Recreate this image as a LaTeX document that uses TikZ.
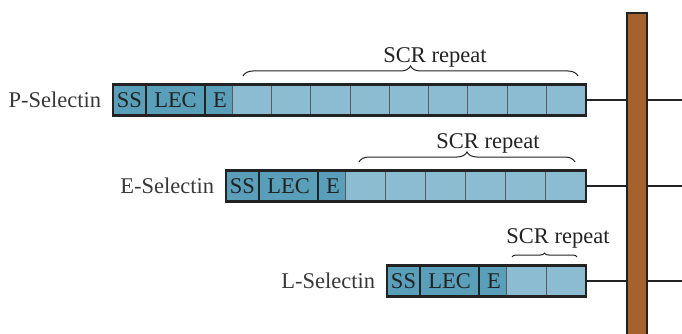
\documentclass[tikz,border=0pt]{standalone}
\usepackage{fontspec}
\setmainfont{Liberation Serif}
\usetikzlibrary{decorations.pathreplacing, calc}
\definecolor{cdark}{HTML}{5A9FBA}
\definecolor{clight}{HTML}{8CBCD1}
\definecolor{cbrown}{HTML}{A4622F}
\definecolor{cline}{HTML}{222222}
\tikzset{
  every picture/.style={font=\fontsize{22.5}{26}\selectfont, line width=1pt},
  seg/.style={draw=cline, fill=#1, minimum height=30pt, inner sep=0pt, anchor=west, text=cline},
  seg/.default=cdark,
  boxline/.style={draw=cline, line width=2.5pt},
  tether/.style={draw=cline, line width=2.5pt},
  curly/.style={decorate, decoration={brace, amplitude=#1}, draw=cline, line width=1pt},
  protlabel/.style={anchor=east, text=cline!90},
}

\begin{document}
\begin{tikzpicture}[x=1pt, y=-1pt]
  \useasboundingbox (0,0) rectangle (682,334);
  % membrane
  \node[draw=cline, fill=cbrown, line width=2pt, minimum width=20pt, minimum height=330pt, anchor=north, inner sep=0pt] (mem) at (637,12) {};
  \coordinate (edge) at (682,0);
  % selectins
  \foreach \nm/\lbl/\x/\y/\n/\bl/\br/\amp/\tx in {p/P-Selectin/113/100/9/243/578/10/435, e/E-Selectin/226/186/6/359/575/10/488, l/L-Selectin/387/281/2/512/577/4/558} {
    \pgfmathsetmacro{\w}{(585-\x-119)/\n}
    \node[protlabel] (\nm-name) at (\x-8,\y) {\lbl};
    \node[seg, minimum width=32pt] (\nm-ss) at (\x,\y) {SS};
    \node[seg, minimum width=58pt] (\nm-lec) at (\nm-ss.east) {LEC};
    \node[seg, minimum width=29pt] (\nm-e) at (\nm-lec.east) {E};
    \foreach \k in {1,...,\n} \node[seg=clight, draw=cline!75, minimum width=\w pt] (\nm-r\k) at ({\x+119+(\k-1)*\w},\y) {};
    \draw[boxline] (\nm-ss.north west) rectangle (\nm-r\n.south east);
    \draw[tether] (\nm-r\n.east) -- (\nm-r\n.east -| mem.west);
    \draw[tether] (\nm-r\n.east -| mem.east) -- (\nm-r\n.east -| edge);
    \coordinate (\nm-bl) at (\bl,\y-24);
    \coordinate (\nm-br) at (\br,\y-24);
    \draw[curly=\amp pt] (\nm-bl) -- (\nm-br);
    \node[text=cline] (\nm-scr) at (\tx,\y-43) {SCR repeat};
  }
\end{tikzpicture}
\end{document}
